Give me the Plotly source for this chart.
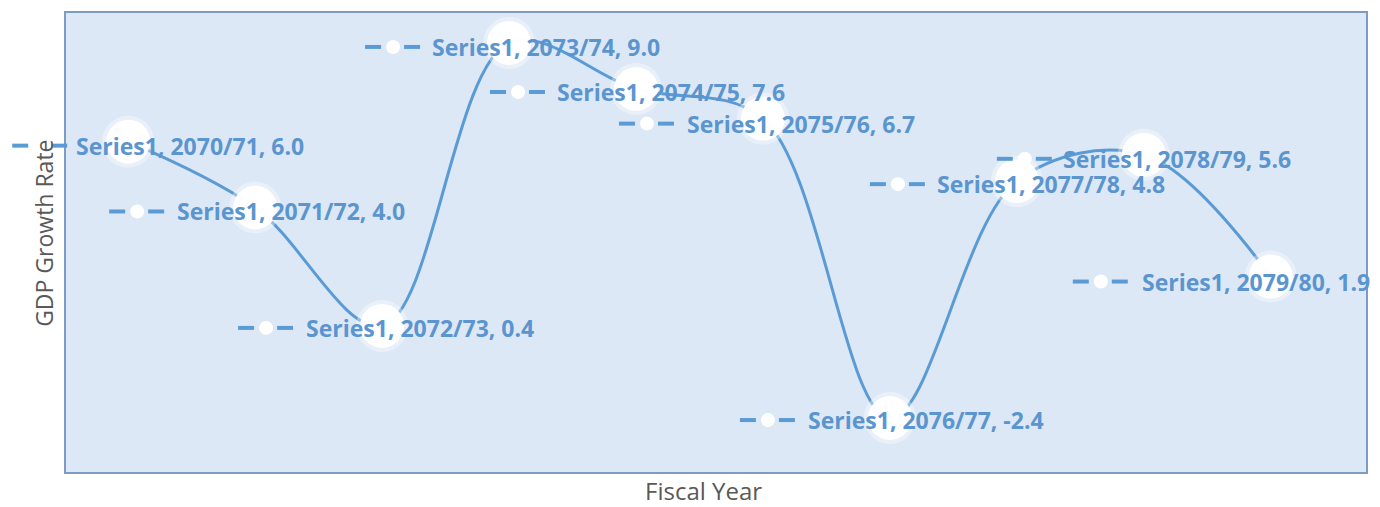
import plotly.graph_objects as go

# Fiscal years and GDP growth rates (%)
fiscal_years = ["2070/71", "2071/72", "2072/73", "2073/74", "2074/75",
                "2075/76", "2076/77", "2077/78", "2078/79", "2079/80"]
growth_rate = [6.0, 4.0, 0.4, 9.0, 7.6, 6.7, -2.4, 4.8, 5.6, 1.9]
series_name = "Series1"

LINE = "#5b9bd5"
LABEL = "#5b95cf"
PLOT_BG = "#dde8f6"
FRAME = "#7d9cc4"

X_RANGE = [-0.49, 9.75]
Y_RANGE = [-4.04, 9.91]

xs = list(range(len(fiscal_years)))

# pixel placement of each data label's key (relative to its point) and vertical nudge
key_dx = [-88, -118, -116, -116, -118, -116, -122, -119, -119, -170]
text_gap = [34, 38, 38, 37, 37, 38, 38, 37, 36, 39]
label_dy = [4, 4, 2, 4, 3, 5, 2, 3, 4, 5]


def x_paper(i):
    # horizontal position of category i as a fraction of the plot width,
    # so label keys may extend past the plot frame without being clipped
    return (i - X_RANGE[0]) / (X_RANGE[1] - X_RANGE[0])


fig = go.Figure()

# smoothed line
fig.add_trace(go.Scatter(
    x=xs, y=growth_rate, mode="lines",
    line=dict(color=LINE, width=3, shape="spline", smoothing=1.0),
    hoverinfo="skip", showlegend=False,
))
# soft halo behind the markers
fig.add_trace(go.Scatter(
    x=xs, y=growth_rate, mode="markers",
    marker=dict(size=52, color="rgba(255,255,255,0.35)", line=dict(width=0)),
    hoverinfo="skip", showlegend=False,
))
# white markers
fig.add_trace(go.Scatter(
    x=xs, y=growth_rate, mode="markers",
    marker=dict(size=44, color="rgba(255,255,255,0.96)", line=dict(width=0)),
    showlegend=False,
))

shapes = []
annotations = []
for i, (fy, v) in enumerate(zip(fiscal_years, growth_rate)):
    kx = key_dx[i]
    ky = -label_dy[i]
    px = x_paper(i)
    # legend key: dash, white dot, dash
    for a, b in ((kx - 28, kx - 12), (kx + 11, kx + 27)):
        shapes.append(dict(
            type="line", xref="paper", yref="y",
            xsizemode="pixel", ysizemode="pixel",
            xanchor=px, yanchor=v,
            x0=a, x1=b, y0=ky, y1=ky,
            line=dict(color=LINE, width=4), layer="above",
        ))
    shapes.append(dict(
        type="circle", xref="paper", yref="y",
        xsizemode="pixel", ysizemode="pixel",
        xanchor=px, yanchor=v,
        x0=kx - 7, x1=kx + 7, y0=ky - 7, y1=ky + 7,
        fillcolor="white", line=dict(width=0), layer="above",
    ))
    annotations.append(dict(
        x=i, y=v, xref="x", yref="y",
        text=f"<b>{series_name}, {fy}, {v:.1f}</b>",
        showarrow=False, xanchor="left", yanchor="middle",
        xshift=kx + text_gap[i], yshift=ky,
        font=dict(family="Open Sans", size=23, color=LABEL),
    ))

# axis titles
annotations.append(dict(
    text="GDP Growth Rate", xref="paper", yref="paper",
    x=-0.0165, y=0.52, textangle=-90, showarrow=False,
    xanchor="center", yanchor="middle",
    font=dict(family="Open Sans", size=23, color="#595959"),
))
annotations.append(dict(
    text="Fiscal Year", xref="paper", yref="paper",
    x=0.49, y=-0.041, showarrow=False,
    xanchor="center", yanchor="middle", borderpad=0,
    font=dict(family="Open Sans", size=24, color="#595959"),
))

fig.update_layout(
    width=1380, height=507,
    margin=dict(l=66, r=14, t=13, b=35),
    paper_bgcolor="white", plot_bgcolor=PLOT_BG,
    shapes=shapes, annotations=annotations,
    xaxis=dict(range=X_RANGE, showgrid=False, zeroline=False,
               showticklabels=False, ticks="", showline=True, mirror=True,
               linecolor=FRAME, linewidth=1.5),
    yaxis=dict(range=Y_RANGE, showgrid=False, zeroline=False,
               showticklabels=False, ticks="", showline=True, mirror=True,
               linecolor=FRAME, linewidth=1.5),
)

fig.write_html("out.html")
